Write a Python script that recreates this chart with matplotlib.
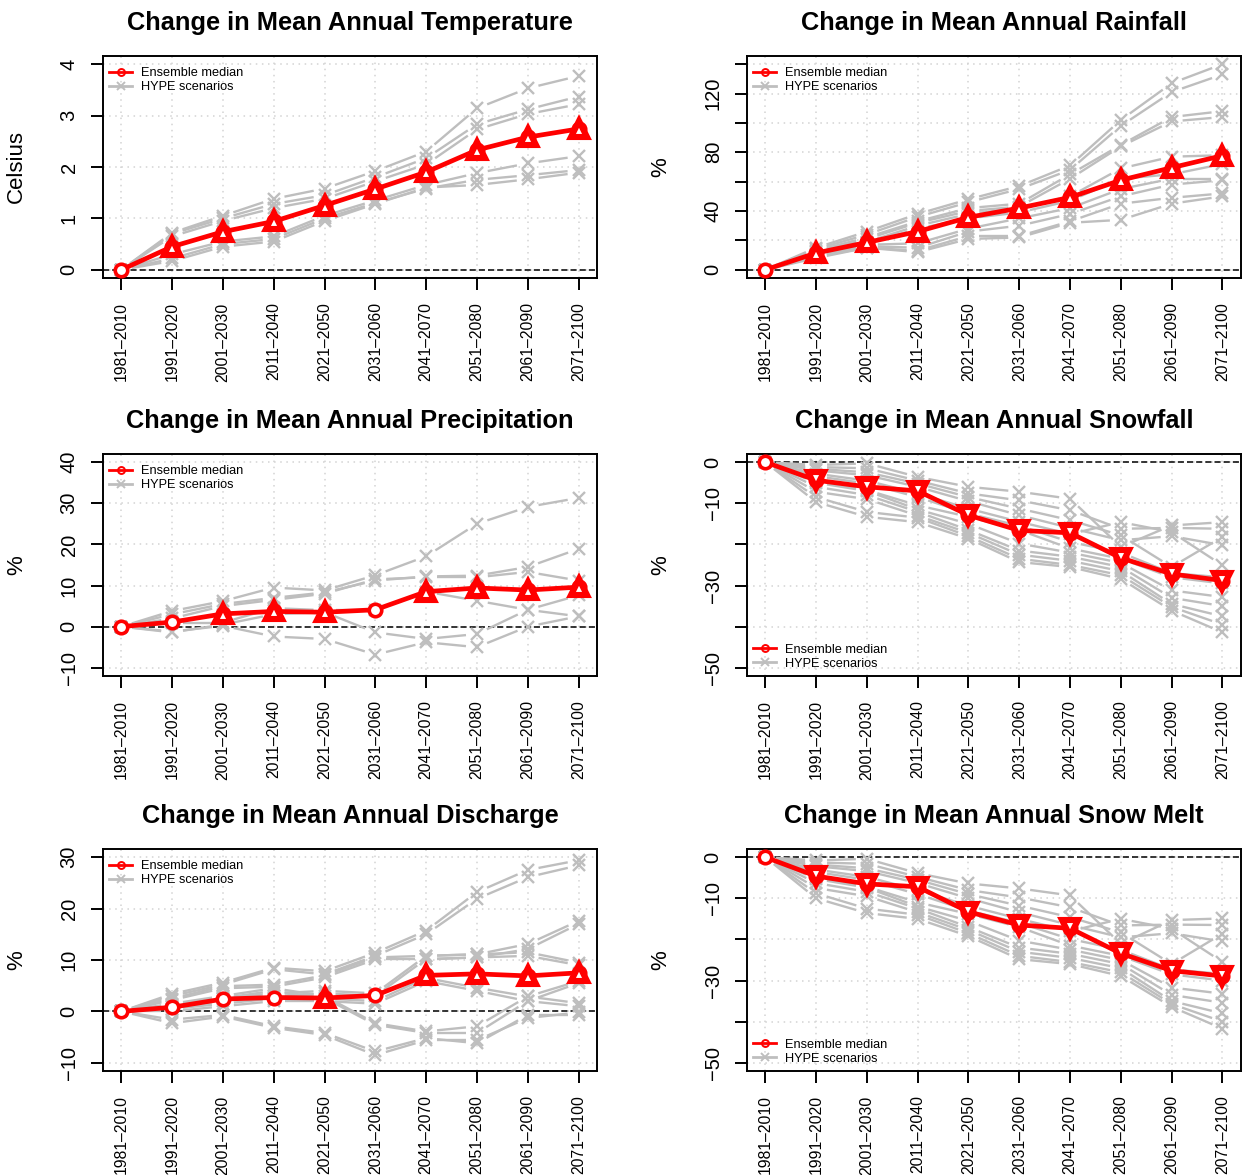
import numpy as np
import matplotlib
matplotlib.use("Agg")
import matplotlib.pyplot as plt
from matplotlib.lines import Line2D

plt.rcParams["font.family"] = ["Liberation Sans", "DejaVu Sans"]

periods = ["1981–2010", "1991–2020", "2001–2030", "2011–2040", "2021–2050",
           "2031–2060", "2041–2070", "2051–2080", "2061–2090", "2071–2100"]

# ---- temperature (Celsius)
temp_med = [0, 0.45, 0.74, 0.94, 1.25, 1.57, 1.90, 2.33, 2.58, 2.74]
temp_scen = [
    [0, 0.72, 1.05, 1.38, 1.58, 1.92, 2.30, 3.14, 3.53, 3.77],
    [0, 0.70, 1.00, 1.28, 1.45, 1.80, 2.17, 2.83, 3.12, 3.37],
    [0, 0.65, 0.95, 1.20, 1.38, 1.72, 2.05, 2.73, 3.03, 3.22],
    [0, 0.30, 0.55, 0.65, 1.05, 1.35, 1.65, 1.88, 2.07, 2.21],
    [0, 0.22, 0.50, 0.60, 1.00, 1.30, 1.58, 1.75, 1.84, 1.94],
    [0, 0.17, 0.45, 0.55, 0.95, 1.28, 1.60, 1.65, 1.76, 1.89],
]
temp_sig = [0, 1, 1, 1, 1, 1, 1, 1, 1, 1]

# ---- rainfall (%)
rain_med = [0, 11.4, 18.6, 26.0, 35.7, 42.0, 49.3, 61.0, 69.5, 77.7]
rain_scen = [
    [0, 15, 26, 38, 48, 57, 71, 102, 127, 140],
    [0, 14, 24, 36, 46, 55, 68, 98, 121, 133],
    [0, 13, 22, 33, 42, 45, 65, 85, 104, 108],
    [0, 12, 21, 32, 40, 43, 62, 84, 101, 104],
    [0, 11, 19, 30, 38, 42, 50, 69, 77, 78],
    [0, 10, 18, 28, 35, 39, 47, 62, 65, 72],
    [0, 10, 17, 18, 28, 35, 42, 55, 62, 62],
    [0, 9, 16, 15, 26, 30, 38, 50, 58, 61],
    [0, 9, 15, 13, 23, 23, 33, 45, 49, 52],
    [0, 8, 15, 12, 21, 22, 32, 34, 45, 50],
]
rain_sig = [0, 1, 1, 1, 1, 1, 1, 1, 1, 1]

# ---- precipitation (%)
prec_med = [0, 1.1, 3.1, 3.7, 3.5, 4.1, 8.5, 9.4, 8.9, 9.6]
prec_scen = [
    [0, 3.8, 6.2, 9.5, 8.8, 12.5, 17.1, 25.0, 29.1, 31.3],
    [0, 3.0, 5.5, 7.0, 8.3, 11.2, 12.2, 12.4, 14.5, 18.9],
    [0, 2.0, 5.0, 6.5, 8.0, 11.5, 12.0, 12.0, 13.3, 11.2],
    [0, 1.0, 1.0, 4.5, 4.0, 4.0, 8.5, 6.3, 4.1, 2.5],
    [0, -1.4, 0.5, 3.0, 3.5, -1.4, -3.0, -1.8, 4.1, 7.6],
    [0, -1.2, 0.2, -2.4, -3.0, -6.8, -3.8, -5.0, 0.0, 2.5],
]
prec_sig = [0, 0, 1, 1, 1, 0, 1, 1, 1, 1]

# ---- snowfall (%)
snow_med = [0, -4.4, -6.0, -7.0, -12.9, -16.6, -17.2, -23.3, -27.2, -28.8]
snow_scen = [
    [0, -0.7, -0.3, -3.6, -6.0, -7.2, -8.9, -20.6, -15.4, -14.6],
    [0, -1.2, -1.5, -4.5, -7.6, -9.3, -11.7, -16.2, -16.0, -16.2],
    [0, -1.6, -2.5, -5.2, -8.5, -11.3, -14.1, -17.8, -25.5, -18.2],
    [0, -2.0, -3.2, -6.0, -9.5, -12.9, -16.0, -19.0, -18.0, -20.2],
    [0, -2.8, -4.5, -7.6, -11.3, -14.5, -17.5, -14.6, -17.0, -25.1],
    [0, -3.4, -5.2, -8.5, -12.5, -15.5, -19.4, -22.0, -27.0, -28.0],
    [0, -4.5, -6.8, -10.5, -13.3, -16.5, -21.0, -23.5, -28.0, -29.5],
    [0, -5.0, -7.0, -11.5, -15.0, -19.8, -22.0, -24.5, -31.2, -32.8],
    [0, -6.0, -8.0, -12.1, -16.5, -21.5, -23.0, -25.5, -33.0, -35.0],
    [0, -7.2, -9.0, -13.0, -17.2, -22.5, -24.0, -26.5, -34.5, -37.5],
    [0, -8.5, -12.1, -13.5, -18.0, -23.5, -25.0, -27.5, -35.2, -39.5],
    [0, -9.7, -13.3, -14.6, -18.6, -24.3, -25.5, -28.4, -36.1, -41.4],
]
snow_sig = [0, 1, 1, 1, 1, 1, 1, 1, 1, 1]

# ---- discharge (%)
disc_med = [0, 0.8, 2.4, 2.7, 2.6, 3.1, 7.0, 7.3, 6.9, 7.5]
disc_scen = [
    [0, 3.4, 5.6, 8.5, 7.8, 11.4, 15.7, 23.2, 27.5, 29.4],
    [0, 3.0, 5.2, 8.2, 7.2, 10.8, 15.0, 21.9, 26.1, 28.4],
    [0, 2.5, 4.9, 5.2, 7.0, 10.5, 10.8, 11.1, 13.1, 17.6],
    [0, 2.2, 4.5, 4.8, 6.6, 10.1, 10.1, 10.5, 12.1, 17.0],
    [0, 1.0, 2.5, 3.5, 4.0, 3.5, 10.8, 11.1, 11.5, 9.5],
    [0, 0.8, 2.0, 3.0, 3.5, 3.0, 10.2, 10.5, 10.8, 9.0],
    [0, 0.5, 1.5, 2.5, 2.5, 2.0, 6.5, 4.6, 2.9, 5.9],
    [0, 0.0, 1.0, 2.0, 2.0, 1.5, 5.9, 4.0, 2.0, 5.5],
    [0, 1.5, 3.0, 4.5, 3.0, -2.3, -3.9, -2.9, 2.9, 1.6],
    [0, 1.2, 2.6, 4.0, 2.6, -2.6, -4.2, -4.2, 2.0, 1.0],
    [0, -1.6, -0.7, -2.9, -4.2, -7.8, -5.2, -6.2, -0.7, -0.7],
    [0, -2.3, -1.0, -3.2, -4.6, -8.5, -5.6, -5.6, -1.3, -0.2],
]
disc_sig = [0, 0, 0, 0, 1, 0, 1, 1, 1, 1]

# ---- snow melt (%)
melt_med = [0, -4.6, -6.5, -7.2, -13.3, -16.5, -17.3, -23.4, -27.6, -28.9]
melt_scen = [
    [0, -0.8, -0.4, -3.9, -6.4, -7.6, -9.3, -21.1, -15.3, -14.9],
    [0, -1.3, -1.6, -4.8, -8.0, -9.8, -12.2, -16.6, -16.4, -16.5],
    [0, -1.8, -2.7, -5.5, -9.0, -11.8, -14.6, -18.3, -26.0, -18.6],
    [0, -2.2, -3.4, -6.3, -10.0, -13.4, -16.5, -19.5, -18.5, -20.5],
    [0, -3.0, -4.8, -8.0, -11.8, -15.0, -18.0, -15.0, -17.4, -25.5],
    [0, -3.6, -5.5, -9.0, -13.0, -16.0, -19.9, -22.5, -27.3, -28.4],
    [0, -4.8, -7.2, -11.0, -13.8, -17.0, -21.5, -24.0, -28.5, -30.0],
    [0, -5.3, -7.4, -12.0, -15.5, -20.3, -22.5, -25.0, -31.7, -33.2],
    [0, -6.3, -8.4, -12.5, -17.0, -22.0, -23.5, -26.0, -33.5, -35.4],
    [0, -7.5, -9.5, -13.4, -17.7, -23.0, -24.5, -27.0, -35.0, -38.0],
    [0, -8.8, -12.5, -14.0, -18.5, -24.0, -25.5, -28.0, -35.7, -40.0],
    [0, -10.0, -13.6, -15.0, -19.2, -24.8, -26.0, -28.9, -36.4, -41.7],
]
melt_sig = [0, 1, 1, 1, 1, 1, 1, 1, 1, 1]

M = "\u2212"
panels = [
    dict(title="Change in Mean Annual Temperature", ylab="Celsius", lim=(0, 4),
         ticks=[0, 1, 2, 3, 4], labels=["0", "1", "2", "3", "4"],
         med=temp_med, scen=temp_scen, sig=temp_sig, loc="upper left", pos=(0, 0)),
    dict(title="Change in Mean Annual Rainfall", ylab="%", lim=(0, 140),
         ticks=[0, 20, 40, 60, 80, 100, 120, 140],
         labels=["0", "", "40", "", "80", "", "120", ""],
         med=rain_med, scen=rain_scen, sig=rain_sig, loc="upper left", pos=(0, 1)),
    dict(title="Change in Mean Annual Precipitation", ylab="%", lim=(-10, 40),
         ticks=[-10, 0, 10, 20, 30, 40],
         labels=[M + "10", "0", "10", "20", "30", "40"],
         med=prec_med, scen=prec_scen, sig=prec_sig, loc="upper left", pos=(1, 0)),
    dict(title="Change in Mean Annual Snowfall", ylab="%", lim=(-50, 0),
         ticks=[-50, -40, -30, -20, -10, 0],
         labels=[M + "50", "", M + "30", "", M + "10", "0"],
         med=snow_med, scen=snow_scen, sig=snow_sig, loc="lower left", pos=(1, 1)),
    dict(title="Change in Mean Annual Discharge", ylab="%", lim=(-10, 30),
         ticks=[-10, 0, 10, 20, 30],
         labels=[M + "10", "0", "10", "20", "30"],
         med=disc_med, scen=disc_scen, sig=disc_sig, loc="upper left", pos=(2, 0)),
    dict(title="Change in Mean Annual Snow Melt", ylab="%", lim=(-50, 0),
         ticks=[-50, -40, -30, -20, -10, 0],
         labels=[M + "50", "", M + "30", "", M + "10", "0"],
         med=melt_med, scen=melt_scen, sig=melt_sig, loc="lower left", pos=(2, 1)),
]

GREY = "#bebebe"
col_x = [0.0826, 0.599]
row_y = [0.7634, 0.4247, 0.0885]
W, H = 0.396, 0.189


def gapped(ax, x, y, gap, **kw):
    # R type="b": segments stop short of each point
    pts = ax.transData.transform(np.column_stack([x, y]))
    inv = ax.transData.inverted()
    for i in range(len(x) - 1):
        d = pts[i + 1] - pts[i]
        L = np.hypot(*d)
        if L <= 2 * gap:
            continue
        u = d / L
        a = inv.transform(pts[i] + u * gap)
        b = inv.transform(pts[i + 1] - u * gap)
        ax.plot([a[0], b[0]], [a[1], b[1]], **kw)


fig = plt.figure(figsize=(12.47, 11.75), dpi=100)

for p in panels:
    r, c = p["pos"]
    ax = fig.add_axes([col_x[c], row_y[r], W, H])
    x = np.arange(1, 11)
    lo, hi = p["lim"]
    pad = 0.04 * (hi - lo)
    ax.set_xlim(1 - 0.36, 10 + 0.36)
    ax.set_ylim(lo - pad, hi + pad)

    for xv in x:
        ax.axvline(xv, color="#d3d3d3", lw=1.1, ls=(0, (1, 3)), zorder=0)
    for yv in p["ticks"]:
        ax.axhline(yv, color="#d3d3d3", lw=1.1, ls=(0, (1, 3)), zorder=0)
    ax.axhline(0, color="black", lw=1.1, ls=(0, (4, 2)), zorder=1)

    for s in p["scen"]:
        gapped(ax, x, s, 11, color=GREY, lw=1.7, zorder=2, solid_capstyle="butt")
        ax.plot(x, s, ls="none", marker="x", ms=9, mew=1.7, color=GREY, zorder=2)

    med = np.array(p["med"])
    ax.plot(x, med, color="red", lw=3.4, zorder=4)
    sig = np.array(p["sig"], dtype=bool)
    tri = "^" if med[-1] > 0 else "v"
    ax.plot(x, med, ls="none", marker="o", ms=9, mew=2.6,
            mfc="white", mec="red", zorder=5)
    ax.plot(x[sig], med[sig], ls="none", marker=tri, ms=11.5, mew=4.4,
            mfc="white", mec="red", zorder=6)

    ax.set_xticks(x, periods, rotation=90, fontsize=11.3)
    ax.set_yticks(p["ticks"], p["labels"], rotation=90, va="center", fontsize=14.5)
    ax.tick_params(axis="both", length=8.5, width=1.4, pad=9)
    for sp in ax.spines.values():
        sp.set_linewidth(1.4)

    ax.set_title(p["title"], fontsize=18.3, fontweight="bold", pad=19)
    ax.set_ylabel(p["ylab"], fontsize=16)
    ax.yaxis.set_label_coords(-0.154, 0.5)

    handles = [
        Line2D([], [], color="red", lw=2, marker="o", ms=5, mfc="none", mew=1.4),
        Line2D([], [], color=GREY, lw=2, marker="x", ms=6, mew=1.4),
    ]
    anchor = (0.0, 0.977) if p["loc"] == "upper left" else (0.0, 0.0)
    ax.legend(handles, ["Ensemble median", "HYPE scenarios"], loc=p["loc"],
              bbox_to_anchor=anchor, frameon=False, fontsize=9.2,
              handlelength=1.75, handletextpad=0.75,
              labelspacing=0.15, borderaxespad=0.3, borderpad=0.2)

fig.savefig("out.png", dpi=100)
